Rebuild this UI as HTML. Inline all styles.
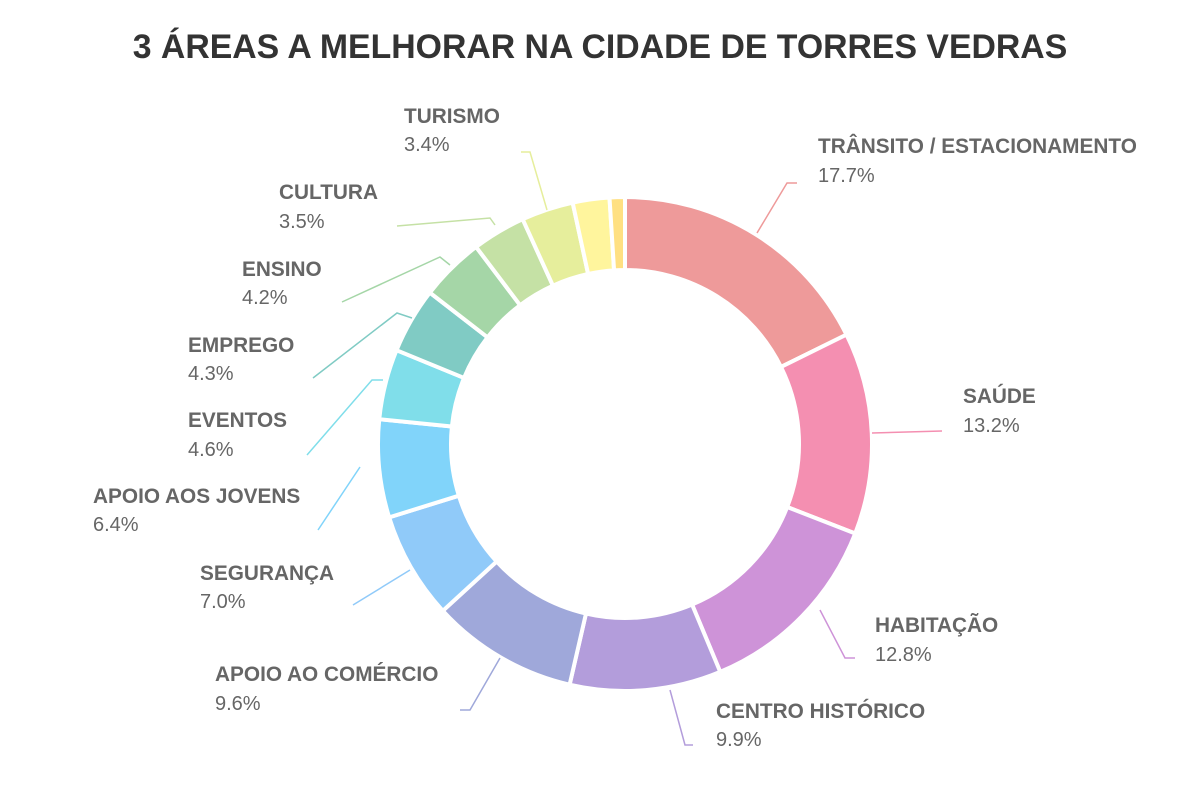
<!DOCTYPE html>
<html><head><meta charset="utf-8"><style>
body{margin:0;background:#fff;width:1200px;height:800px;overflow:hidden;font-family:"Liberation Sans",Arial,sans-serif}
</style></head><body>
<svg width="1200" height="800" xmlns="http://www.w3.org/2000/svg" font-family="Liberation Sans, Arial, sans-serif">
<text x="600" y="58" text-anchor="middle" font-size="33.8" font-weight="bold" fill="#333">3 ÁREAS A MELHORAR NA CIDADE DE TORRES VEDRAS</text>
<g id="pie"></g>
<g fill="none" stroke-width="1.5">
<polyline points="757,233 787,183 797,183" stroke="#EE9A9A"/>
<polyline points="872,433 942,431" stroke="#F48FB1"/>
<polyline points="820,610 845,658 855,658" stroke="#CE93D8"/>
<polyline points="670,690 685,745 693,745" stroke="#B39DDB"/>
<polyline points="500,658 470,710 460,710" stroke="#9FA8DA"/>
<polyline points="410,570 353,605" stroke="#90CAF9"/>
<polyline points="360,467 318,530" stroke="#81D4FA"/>
<polyline points="383,380 372,380 307,455" stroke="#80DEEA"/>
<polyline points="412,318 397,313 313,378" stroke="#80CBC4"/>
<polyline points="450,265 440,257 342,302" stroke="#A5D6A7"/>
<polyline points="495,225 490,218 397,226" stroke="#C5E1A5"/>
<polyline points="547,210 530,152 521,152" stroke="#E6EE9C"/>
</g>
<g font-size="20" fill="#666">
<g font-weight="bold" font-size="20.8">
<text x="818" y="153">TRÂNSITO / ESTACIONAMENTO</text>
<text x="963" y="403">SAÚDE</text>
<text x="875" y="632">HABITAÇÃO</text>
<text x="716" y="718">CENTRO HISTÓRICO</text>
<text x="215" y="681">APOIO AO COMÉRCIO</text>
<text x="200" y="580">SEGURANÇA</text>
<text x="93" y="503">APOIO AOS JOVENS</text>
<text x="188" y="427">EVENTOS</text>
<text x="188" y="352">EMPREGO</text>
<text x="242" y="276">ENSINO</text>
<text x="279" y="199">CULTURA</text>
<text x="404" y="123">TURISMO</text>
</g>
<text x="818" y="182">17.7%</text>
<text x="963" y="432">13.2%</text>
<text x="875" y="661">12.8%</text>
<text x="716" y="746">9.9%</text>
<text x="215" y="710">9.6%</text>
<text x="200" y="608">7.0%</text>
<text x="93" y="531">6.4%</text>
<text x="188" y="456">4.6%</text>
<text x="188" y="380">4.3%</text>
<text x="242" y="304">4.2%</text>
<text x="279" y="228">3.5%</text>
<text x="404" y="151">3.4%</text>
</g>
</svg>
<script>
var d=[[17.7,"#EE9A9A"],[13.2,"#F48FB1"],[12.8,"#CE93D8"],[9.9,"#B39DDB"],[9.6,"#9FA8DA"],[7.0,"#90CAF9"],[6.4,"#81D4FA"],[4.6,"#80DEEA"],[4.3,"#80CBC4"],[4.2,"#A5D6A7"],[3.5,"#C5E1A5"],[3.4,"#E6EE9C"],[2.4,"#FFF59D"],[1.0,"#FFE082"]];
var cx=625,cy=444,R=247,r=174,a=-Math.PI/2,s="";
function p(rr,t){return (cx+rr*Math.cos(t)).toFixed(2)+","+(cy+rr*Math.sin(t)).toFixed(2)}
d.forEach(function(e){var b=a+e[0]/100*2*Math.PI,l=(b-a)>Math.PI?1:0;
s+='<path d="M'+p(R,a)+' A'+R+','+R+' 0 '+l+' 1 '+p(R,b)+' L'+p(r,b)+' A'+r+','+r+' 0 '+l+' 0 '+p(r,a)+' Z" fill="'+e[1]+'" stroke="#fff" stroke-width="4" stroke-linejoin="round"/>';a=b;});
document.getElementById("pie").innerHTML=s;
</script>
</body></html>
